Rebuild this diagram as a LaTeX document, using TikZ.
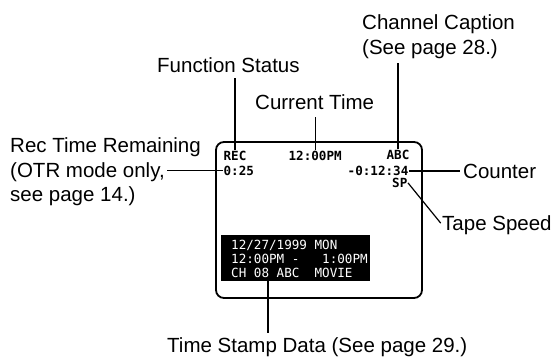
\documentclass[tikz,border=0pt]{standalone}
\usepackage{fontspec}
\setmainfont{Liberation Sans}
\newfontfamily\osdfont{DejaVu Sans Mono}
\usetikzlibrary{positioning}

\begin{document}
\begin{tikzpicture}[
    x=1pt, y=-1pt,
    lbl/.style={inner sep=0pt, font=\fontsize{20.5}{24.5}\selectfont},
    osd/.style={inner sep=0.4pt, font=\osdfont\bfseries\fontsize{12.6}{14}\selectfont},
    screen/.style={draw, line width=1.8pt, rounded corners=8pt,
        minimum width=206pt, minimum height=156pt},
    tsbox/.style={fill=black, minimum width=149pt, minimum height=46pt, inner sep=0pt},
    tstext/.style={text=white, align=left, inner sep=0pt,
        font=\osdfont\fontsize{12.6}{14}\selectfont},
    leader/.style={line width=1.2pt}
]
\useasboundingbox (0,0) rectangle (560,359);

% the screen
\node[screen] (scr) at (319,220) {};

% labels
\node[lbl, anchor=base west] (chcap) at (362,29) {Channel Caption};
\node[lbl, anchor=base west] (chpage) at (362,54) {(See page 28.)};
\node[lbl, anchor=base west] (fstat) at (157,72) {Function Status};
\node[lbl, anchor=base west] (ctime) at (255,109) {Current Time};
\node[lbl, anchor=base west] (rtrA) at (10,152) {Rec Time Remaining};
\node[lbl, anchor=base west] (rtrB) at (10,177) {(OTR mode only,};
\node[lbl, anchor=base west] (rtrC) at (10,201) {see page 14.)};
\node[lbl, anchor=base west] (counter) at (463,178) {Counter};
\node[lbl, anchor=base west] (tspeed) at (442,230) {Tape Speed};
\node[lbl, anchor=base west] (tsdata) at (167,352) {Time Stamp Data (See page 29.)};

% on-screen display
\node[osd, anchor=base west] (rec) at (223,160) {REC};
\node[osd, anchor=base west] (otr) at (223,175) {0:25};
\node[osd, anchor=base west] (clock) at (288,160) {12:00PM};
\node[osd, anchor=base east] (chan) at (410,159) {ABC};
\node[osd, anchor=base east] (cnt) at (409,175.5) {-0:12:34};
\node[osd, anchor=base east] (sp) at (408,187.5) {SP};

% time stamp block
\node[tsbox] (tsbox) at (295.5,258) {};
\node[tstext, anchor=north west] (tstext) at (231,240)
    {12/27/1999 MON\\12:00PM -\ \ \ 1:00PM\\CH 08 ABC\ \ MOVIE};

% leaders
\draw[leader, shorten >=5pt] (chan.north) -- (chan.north |- chpage.south);
\draw[leader, shorten >=6pt] (rec.north) -- (rec.north |- fstat.south);
\draw[leader, shorten >=8pt] (clock.north) -- (clock.north |- ctime.south);
\draw[leader, shorten >=2pt] (otr.west) -- (otr.west -| rtrB.east);
\draw[leader, shorten >=3pt] (cnt.east) -- (cnt.east -| counter.west);
\draw[leader, shorten >=2pt] (sp.east) -- (tspeed.west);
\draw[leader, shorten >=4pt] ([xshift=-27.5pt]tsbox.south)
    -- ([xshift=-27.5pt]tsbox.south |- tsdata.north);
\end{tikzpicture}
\end{document}
